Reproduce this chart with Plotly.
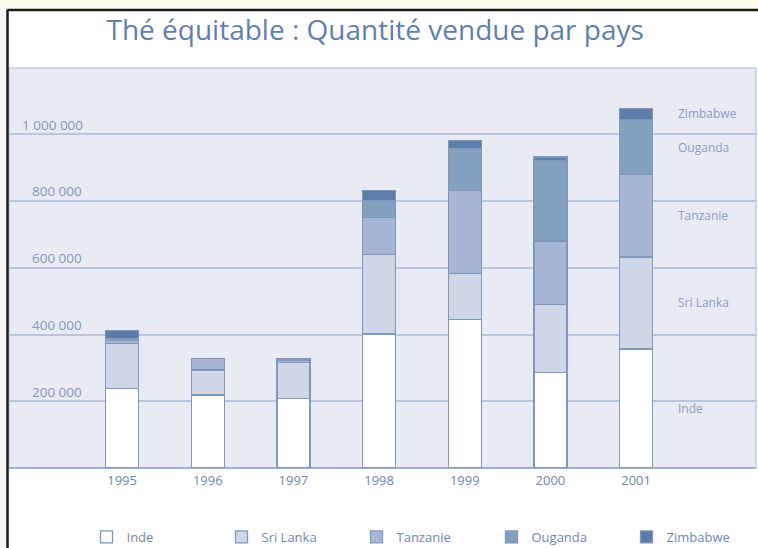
import plotly.graph_objects as go

years = ["1995", "1996", "1997", "1998", "1999", "2000", "2001"]
inde = [239000, 219000, 208000, 402000, 445000, 287000, 357000]
sri_lanka = [135000, 75000, 108000, 238000, 138000, 203000, 275000]
tanzanie = [8000, 35000, 6000, 110000, 248000, 190000, 247000]
ouganda = [6000, 0, 6000, 52000, 126000, 240000, 165000]
zimbabwe = [25000, 0, 0, 30000, 25000, 12000, 34000]

series_names = ["Inde", "Sri Lanka", "Tanzanie", "Ouganda", "Zimbabwe"]
series_values = [inde, sri_lanka, tanzanie, ouganda, zimbabwe]
series_colors = ["#ffffff", "#cfd6e7", "#a6b6d4", "#84a0bf", "#5b7da8"]

tick_vals = [200000, 400000, 600000, 800000, 1000000]
tick_text = ["\u2007\u2009200 000", "\u2007\u2009400 000", "\u2007\u2009600 000", "\u2007\u2009800 000", "1 000 000"]

TXT = "#6f86b0"
FONT = "Open Sans"

fig = go.Figure()
for name, vals, col in zip(series_names, series_values, series_colors):
    fig.add_trace(go.Bar(
        x=years, y=vals, name=name,
        marker=dict(color=col, line=dict(color="#7f97bb", width=1.3)),
        width=0.385,
    ))

# right-side labels at the middle of each segment of the last bar
cum = 0
for name, vals in zip(series_names, series_values):
    v = vals[-1]
    fig.add_annotation(x=6.47, y=cum + v / 2, xref="x", yref="y", text=name,
                       showarrow=False, xanchor="left", yanchor="middle",
                       font=dict(family=FONT, size=12, color="#8a9cc0"))
    cum += v

shapes = [
    dict(type="rect", xref="paper", yref="paper", x0=-0.02, x1=1.01, y0=(468 - 9.5) / 400, y1=1.2,
         fillcolor="#fdfcef", line=dict(width=0), layer="below"),
    dict(type="rect", xref="paper", yref="paper", x0=-0.02, x1=(6.5 - 9) / 747, y0=-0.3, y1=(468 - 9.5) / 400,
         fillcolor="#f6f6f6", line=dict(width=0), layer="below"),
    dict(type="line", xref="paper", yref="paper", x0=(7.5 - 9) / 747, x1=(7.5 - 9) / 747,
         y0=-0.3, y1=(468 - 9.5) / 400, line=dict(color="#1a1a1a", width=2.5)),
    dict(type="line", xref="paper", yref="paper", x0=(7.5 - 9) / 747, x1=1.01,
         y0=(468 - 10) / 400, y1=(468 - 10) / 400, line=dict(color="#1a1a1a", width=2.5)),
    dict(type="rect", xref="paper", yref="paper", x0=0, x1=1, y0=0, y1=1,
         line=dict(color="#c3cee2", width=1.5), layer="below"),
]

fig.update_layout(
    width=758, height=548,
    margin=dict(l=9, r=2, t=68, b=80, autoexpand=False),
    paper_bgcolor="#ffffff",
    plot_bgcolor="#e8ebf3",
    barmode="stack",
    shapes=shapes,
    title=dict(text="Thé équitable : Quantité vendue par pays", x=0.495, xanchor="center",
               y=1 - 30 / 548, yanchor="middle",
               font=dict(family=FONT, size=28, color="#5f7fb0")),
    font=dict(family=FONT, color=TXT),
    showlegend=True,
    legend=dict(orientation="h", x=(87 + 337 - 9) / 747, xanchor="center", y=(468 - 537) / 400, yanchor="middle",
                entrywidth=90, entrywidthmode="pixels", traceorder="normal",
                font=dict(family=FONT, size=13, color=TXT), bgcolor="rgba(0,0,0,0)"),
    xaxis=dict(type="category", range=[-1.32, 7.40], showgrid=False, ticks="",
               ticklabelstandoff=3,
               tickfont=dict(family=FONT, size=13, color=TXT), showline=False, zeroline=False),
    yaxis=dict(range=[0, 1198700], tickvals=tick_vals, ticktext=tick_text,
               ticklabelposition="inside top", ticklabelstandoff=10,
               tickfont=dict(family=FONT, size=13.5, color="#8496bb"),
               showgrid=True, gridcolor="#b9c6de", gridwidth=1.5,
               zeroline=True, zerolinecolor="#9fb0cf", zerolinewidth=1.5, showline=False),
)

fig.write_html("out.html", config={"displayModeBar": False},
               post_script="document.body.style.margin='0';document.body.style.overflow='hidden';")
